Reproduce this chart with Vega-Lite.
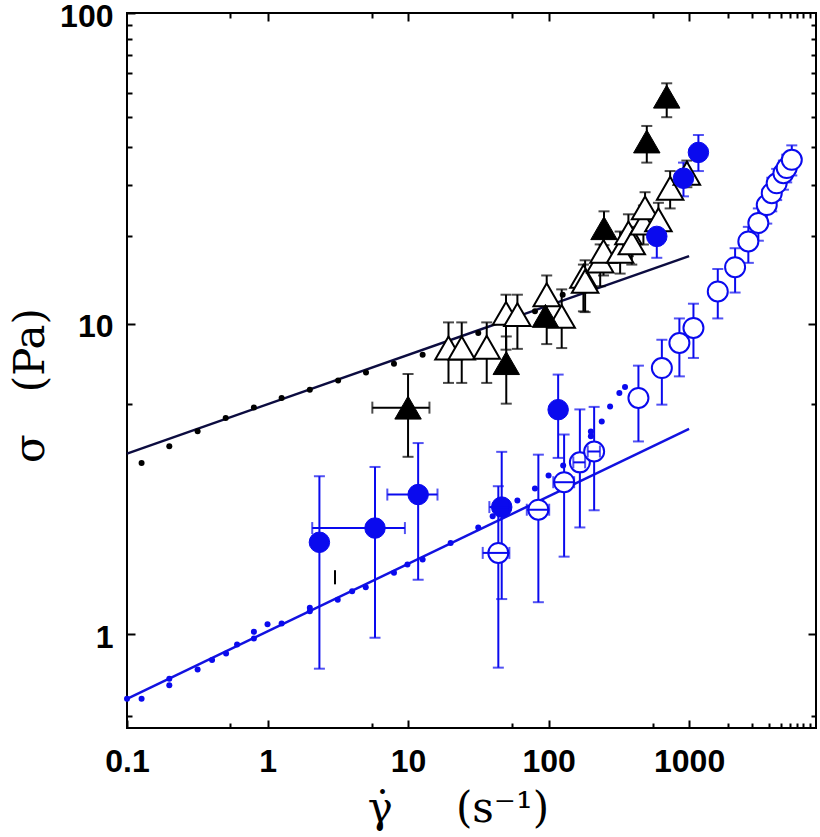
{
  "$schema": "https://vega.github.io/schema/vega-lite/v6.json",
  "width": 689,
  "height": 715,
  "autosize": {"type": "none"},
  "padding": {"left": 127, "top": 13, "right": 4, "bottom": 109},
  "background": "white",
  "config": {"view": {"stroke": "black", "strokeWidth": 2}},
  "datasets": {
    "pts": [
      {"kind": "fit", "sample": "S1", "x": 0.1, "y": 3.82},
      {"kind": "fit", "sample": "S1", "x": 1000, "y": 16.5},
      {"kind": "fit", "sample": "S2", "x": 0.1, "y": 0.62},
      {"kind": "fit", "sample": "S2", "x": 1000, "y": 4.59},

      {"kind": "fine", "sample": "S1", "x": 0.127, "y": 3.56},
      {"kind": "fine", "sample": "S1", "x": 0.2, "y": 4.03},
      {"kind": "fine", "sample": "S1", "x": 0.318, "y": 4.51},
      {"kind": "fine", "sample": "S1", "x": 0.504, "y": 4.97},
      {"kind": "fine", "sample": "S1", "x": 0.8, "y": 5.38},
      {"kind": "fine", "sample": "S1", "x": 1.26, "y": 5.77},
      {"kind": "fine", "sample": "S1", "x": 2.0, "y": 6.13},
      {"kind": "fine", "sample": "S1", "x": 3.18, "y": 6.56},
      {"kind": "fine", "sample": "S1", "x": 5.02, "y": 6.97},
      {"kind": "fine", "sample": "S1", "x": 7.94, "y": 7.44},
      {"kind": "fine", "sample": "S1", "x": 12.7, "y": 7.95},
      {"kind": "fine", "sample": "S1", "x": 19.9, "y": 8.62},
      {"kind": "fine", "sample": "S1", "x": 31.6, "y": 9.33},
      {"kind": "fine", "sample": "S1", "x": 50.4, "y": 10.2},
      {"kind": "fine", "sample": "S1", "x": 80, "y": 10.96},
      {"kind": "fine", "sample": "S1", "x": 126, "y": 12.4},
      {"kind": "fine", "sample": "S1", "x": 200, "y": 12.9},
      {"kind": "fine", "sample": "S1", "x": 314, "y": 16.2},
      {"kind": "fine", "sample": "S1", "x": 350, "y": 17.5},

      {"kind": "fine", "sample": "S2", "x": 0.1, "y": 0.621},
      {"kind": "fine", "sample": "S2", "x": 0.127, "y": 0.621},
      {"kind": "fine", "sample": "S2", "x": 0.2, "y": 0.72},
      {"kind": "fine", "sample": "S2", "x": 0.2, "y": 0.686},
      {"kind": "fine", "sample": "S2", "x": 0.318, "y": 0.772},
      {"kind": "fine", "sample": "S2", "x": 0.403, "y": 0.827},
      {"kind": "fine", "sample": "S2", "x": 0.507, "y": 0.869},
      {"kind": "fine", "sample": "S2", "x": 0.607, "y": 0.929},
      {"kind": "fine", "sample": "S2", "x": 0.8, "y": 1.02},
      {"kind": "fine", "sample": "S2", "x": 0.8, "y": 0.971},
      {"kind": "fine", "sample": "S2", "x": 1.0, "y": 1.079},
      {"kind": "fine", "sample": "S2", "x": 1.26, "y": 1.085},
      {"kind": "fine", "sample": "S2", "x": 2.0, "y": 1.219},
      {"kind": "fine", "sample": "S2", "x": 2.0, "y": 1.188},
      {"kind": "fine", "sample": "S2", "x": 3.16, "y": 1.293},
      {"kind": "fine", "sample": "S2", "x": 4.0, "y": 1.378},
      {"kind": "fine", "sample": "S2", "x": 5.0, "y": 1.419},
      {"kind": "fine", "sample": "S2", "x": 7.94, "y": 1.579},
      {"kind": "fine", "sample": "S2", "x": 9.9, "y": 1.68},
      {"kind": "fine", "sample": "S2", "x": 12.7, "y": 1.742},
      {"kind": "fine", "sample": "S2", "x": 20.1, "y": 1.97},
      {"kind": "fine", "sample": "S2", "x": 31.6, "y": 2.21},
      {"kind": "fine", "sample": "S2", "x": 40, "y": 2.4},
      {"kind": "fine", "sample": "S2", "x": 60, "y": 2.7},
      {"kind": "fine", "sample": "S2", "x": 80, "y": 2.95},
      {"kind": "fine", "sample": "S2", "x": 100, "y": 3.25},
      {"kind": "fine", "sample": "S2", "x": 127, "y": 3.5},
      {"kind": "fine", "sample": "S2", "x": 200, "y": 4.34},
      {"kind": "fine", "sample": "S2", "x": 200, "y": 4.5},
      {"kind": "fine", "sample": "S2", "x": 239, "y": 4.85},
      {"kind": "fine", "sample": "S2", "x": 274, "y": 5.42},
      {"kind": "fine", "sample": "S2", "x": 319, "y": 5.99},
      {"kind": "fine", "sample": "S2", "x": 350, "y": 6.26},

      {"kind": "triFilled", "sample": "S1", "x": 10, "y": 5.37, "ylo": 3.73, "yhi": 6.89, "xlo": 5.57, "xhi": 14.2},
      {"kind": "triFilled", "sample": "S1", "x": 50, "y": 7.47, "ylo": 5.53, "yhi": 9.1},
      {"kind": "triFilled", "sample": "S1", "x": 95, "y": 10.6},
      {"kind": "triFilled", "sample": "S1", "x": 248, "y": 20.3, "ylo": 17.9, "yhi": 23},
      {"kind": "triFilled", "sample": "S1", "x": 500, "y": 38.6, "ylo": 33.0, "yhi": 43.3},
      {"kind": "triFilled", "sample": "S1", "x": 693, "y": 53.8, "ylo": 46.2, "yhi": 59.4},

      {"kind": "triOpen", "sample": "S1", "x": 19.4, "y": 8.35, "ylo": 6.45, "yhi": 10.1},
      {"kind": "triOpen", "sample": "S1", "x": 24.1, "y": 8.35, "ylo": 6.45, "yhi": 10.1},
      {"kind": "triOpen", "sample": "S1", "x": 36.3, "y": 8.4, "ylo": 6.45, "yhi": 10.1},
      {"kind": "triOpen", "sample": "S1", "x": 49.8, "y": 10.8, "ylo": 8.25, "yhi": 12.4},
      {"kind": "triOpen", "sample": "S1", "x": 60, "y": 10.7, "ylo": 8.3, "yhi": 12.4},
      {"kind": "triOpen", "sample": "S1", "x": 97, "y": 12.4, "ylo": 8.6, "yhi": 14.3},
      {"kind": "triOpen", "sample": "S1", "x": 124, "y": 10.56, "ylo": 8.35, "yhi": 12.9},
      {"kind": "triOpen", "sample": "S1", "x": 177, "y": 14.2, "ylo": 10.96, "yhi": 15.5},
      {"kind": "triOpen", "sample": "S1", "x": 182, "y": 13.7, "ylo": 10.9, "yhi": 16.0},
      {"kind": "triOpen", "sample": "S1", "x": 233, "y": 15.9, "ylo": 13.2, "yhi": 18.0},
      {"kind": "triOpen", "sample": "S1", "x": 246, "y": 17.1, "ylo": 14.3, "yhi": 19.5},
      {"kind": "triOpen", "sample": "S1", "x": 323, "y": 17.1, "ylo": 14.5, "yhi": 19.8},
      {"kind": "triOpen", "sample": "S1", "x": 370, "y": 19.6, "ylo": 16.5, "yhi": 22.5},
      {"kind": "triOpen", "sample": "S1", "x": 391, "y": 18.2, "ylo": 15.5, "yhi": 20.5},
      {"kind": "triOpen", "sample": "S1", "x": 473, "y": 21.1, "ylo": 18.0, "yhi": 24.0},
      {"kind": "triOpen", "sample": "S1", "x": 486, "y": 23.6, "ylo": 20.5, "yhi": 26.5},
      {"kind": "triOpen", "sample": "S1", "x": 605, "y": 21.6, "ylo": 18.5, "yhi": 24.5},
      {"kind": "triOpen", "sample": "S1", "x": 733, "y": 27.3, "ylo": 23.5, "yhi": 31},
      {"kind": "triOpen", "sample": "S1", "x": 964, "y": 30.5, "ylo": 27.5, "yhi": 33.5},

      {"kind": "circFilled", "sample": "S2", "x": 2.34, "y": 1.98, "ylo": 0.776, "yhi": 3.23},
      {"kind": "circFilled", "sample": "S2", "x": 5.82, "y": 2.2, "ylo": 0.976, "yhi": 3.46, "xlo": 2.08, "xhi": 9.5},
      {"kind": "circFilled", "sample": "S2", "x": 11.8, "y": 2.82, "ylo": 1.5, "yhi": 4.13, "xlo": 7.12, "xhi": 16.2},
      {"kind": "circFilled", "sample": "S2", "x": 46.4, "y": 2.57, "ylo": 1.3, "yhi": 3.87, "xlo": 37.9, "xhi": 52.6},
      {"kind": "circFilled", "sample": "S2", "x": 117, "y": 5.29, "ylo": 3.7, "yhi": 6.86},
      {"kind": "circFilled", "sample": "S2", "x": 589, "y": 19.1, "ylo": 16.3, "yhi": 21.3},
      {"kind": "circFilled", "sample": "S2", "x": 912, "y": 29.4, "ylo": 25.7, "yhi": 33},
      {"kind": "circFilled", "sample": "S2", "x": 1165, "y": 35.6, "ylo": 31, "yhi": 40.5},

      {"kind": "circOpen", "sample": "S2", "x": 43.9, "y": 1.83, "ylo": 0.782, "yhi": 3.0, "xlo": 34, "xhi": 52.6},
      {"kind": "circOpen", "sample": "S2", "x": 84.6, "y": 2.52, "ylo": 1.27, "yhi": 3.79, "xlo": 70, "xhi": 101},
      {"kind": "circOpen", "sample": "S2", "x": 129, "y": 3.09, "ylo": 1.78, "yhi": 4.4, "xlo": 108, "xhi": 152},
      {"kind": "circOpen", "sample": "S2", "x": 167, "y": 3.58, "ylo": 2.21, "yhi": 5.3, "xlo": 150, "xhi": 182},
      {"kind": "circOpen", "sample": "S2", "x": 211, "y": 3.88, "ylo": 2.51, "yhi": 5.4, "xlo": 190, "xhi": 232},
      {"kind": "circOpen", "sample": "S2", "x": 436, "y": 5.77, "ylo": 4.18, "yhi": 7.33},
      {"kind": "circOpen", "sample": "S2", "x": 640, "y": 7.2, "ylo": 5.49, "yhi": 8.88},
      {"kind": "circOpen", "sample": "S2", "x": 853, "y": 8.67, "ylo": 6.77, "yhi": 10.4},
      {"kind": "circOpen", "sample": "S2", "x": 1074, "y": 9.69, "ylo": 7.76, "yhi": 11.6},
      {"kind": "circOpen", "sample": "S2", "x": 1600, "y": 12.7, "ylo": 10.4, "yhi": 15},
      {"kind": "circOpen", "sample": "S2", "x": 2125, "y": 15.2, "ylo": 12.6, "yhi": 17.5},
      {"kind": "circOpen", "sample": "S2", "x": 2640, "y": 18.4, "ylo": 15.7, "yhi": 20.5},
      {"kind": "circOpen", "sample": "S2", "x": 3110, "y": 21.1, "ylo": 18.5, "yhi": 23.5},
      {"kind": "circOpen", "sample": "S2", "x": 3570, "y": 24.1, "ylo": 21, "yhi": 27},
      {"kind": "circOpen", "sample": "S2", "x": 3875, "y": 26.3, "ylo": 23, "yhi": 29.5},
      {"kind": "circOpen", "sample": "S2", "x": 4200, "y": 28.3, "ylo": 25, "yhi": 31.5},
      {"kind": "circOpen", "sample": "S2", "x": 4690, "y": 30.5, "ylo": 27, "yhi": 33.5},
      {"kind": "circOpen", "sample": "S2", "x": 4950, "y": 31.7, "ylo": 28.5, "yhi": 35},
      {"kind": "circOpen", "sample": "S2", "x": 5380, "y": 33.7, "ylo": 30, "yhi": 37.5},

      {"kind": "stray", "sample": "S1", "x": 3.02, "y": 1.53, "ylo": 1.45, "yhi": 1.61}
    ]
  },
  "data": {"name": "pts"},
  "resolve": {"axis": {"x": "independent", "y": "independent"}},
  "layer": [
    {
      "transform": [{"filter": "datum.kind === 'fit'"}],
      "mark": {"type": "point", "opacity": 0},
      "encoding": {
        "x": {"field": "x", "type": "quantitative", "scale": {"type": "log", "domain": [0.1, 8000], "nice": false},
          "axis": {"orient": "bottom", "offset": -8, "tickSize": 8, "tickWidth": 2, "tickColor": "black", "domain": false, "grid": false,
            "values": [0.1, 1, 10, 100, 1000], "format": "~g",
            "labelFont": "Liberation Sans", "labelFontWeight": "bold", "labelFontSize": 32, "labelColor": "black", "labelPadding": 18, "labelFlush": false,
            "title": "γ̇\u2003\u2002(s⁻¹)", "titleFont": "DejaVu Serif", "titleFontWeight": "normal", "titleFontSize": 42, "titleColor": "black",
            "titleX": 331, "titleY": 88, "titleBaseline": "middle", "titleAlign": "center"}},
        "y": {"field": "y", "type": "quantitative", "scale": {"type": "log", "domain": [0.5, 100], "nice": false},
          "axis": {"orient": "left", "offset": -8, "tickSize": 8, "tickWidth": 2, "tickColor": "black", "domain": false, "grid": false,
            "values": [1, 10, 100], "format": "~g",
            "labelFont": "Liberation Sans", "labelFontWeight": "bold", "labelFontSize": 32, "labelColor": "black", "labelPadding": 14, "labelOffset": 3, "labelFlush": false,
            "title": "σ\u2003(Pa)", "titleFont": "DejaVu Serif", "titleFontWeight": "normal", "titleFontSize": 42, "titleColor": "black",
            "titleX": -105, "titleY": 372, "titleBaseline": "middle", "titleAlign": "center"}}
      }
    },
    {
      "transform": [{"filter": "datum.kind === 'fit'"}],
      "mark": {"type": "point", "opacity": 0},
      "encoding": {
        "x": {"field": "x", "type": "quantitative", "scale": {"type": "log", "domain": [0.1, 8000], "nice": false},
          "axis": {"orient": "bottom", "offset": -5, "tickSize": 5, "tickWidth": 2, "tickColor": "black", "domain": false, "grid": false, "labels": false, "title": null,
            "values": [0.54, 5.57, 54.7, 552, 1900, 2800, 3700, 4500, 5200, 5850, 6500, 7300]}},
        "y": {"field": "y", "type": "quantitative", "scale": {"type": "log", "domain": [0.5, 100], "nice": false},
          "axis": {"orient": "left", "offset": -5, "tickSize": 5, "tickWidth": 2, "tickColor": "black", "domain": false, "grid": false, "labels": false, "title": null,
            "values": [0.547, 5.5, 19.1, 28, 37.1, 46.2, 55.2, 64.3, 73.3, 82.3, 91.5]}}
      }
    },
    {
      "transform": [{"filter": "datum.kind === 'fit'"}],
      "mark": {"type": "point", "opacity": 0},
      "encoding": {
        "x": {"field": "x", "type": "quantitative", "scale": {"type": "log", "domain": [0.1, 8000], "nice": false},
          "axis": {"orient": "top", "offset": -8, "tickSize": 8, "tickWidth": 2, "tickColor": "black", "domain": false, "grid": false, "labels": false, "title": null,
            "values": [1, 10, 100, 1000]}},
        "y": {"field": "y", "type": "quantitative", "scale": {"type": "log", "domain": [0.5, 100], "nice": false},
          "axis": {"orient": "right", "offset": -8, "tickSize": 8, "tickWidth": 2, "tickColor": "black", "domain": false, "grid": false, "labels": false, "title": null,
            "values": [1, 10]}}
      }
    },
    {
      "transform": [{"filter": "datum.kind === 'fit'"}],
      "mark": {"type": "point", "opacity": 0},
      "encoding": {
        "x": {"field": "x", "type": "quantitative", "scale": {"type": "log", "domain": [0.1, 8000], "nice": false},
          "axis": {"orient": "top", "offset": -5, "tickSize": 5, "tickWidth": 2, "tickColor": "black", "domain": false, "grid": false, "labels": false, "title": null,
            "values": [0.54, 5.57, 54.7, 552, 1900, 2800, 3700, 4500, 5200, 5850, 6500, 7300]}},
        "y": {"field": "y", "type": "quantitative", "scale": {"type": "log", "domain": [0.5, 100], "nice": false},
          "axis": {"orient": "right", "offset": -5, "tickSize": 5, "tickWidth": 2, "tickColor": "black", "domain": false, "grid": false, "labels": false, "title": null,
            "values": [0.547, 5.5, 19.1, 28, 37.1, 46.2, 55.2, 64.3, 73.3, 82.3, 91.5]}}
      }
    },
    {
      "transform": [{"filter": "datum.kind === 'fit' && datum.sample === 'S2'"}],
      "mark": {"type": "line", "color": "#1212e0", "strokeWidth": 2.5},
      "encoding": {
        "x": {"field": "x", "type": "quantitative", "scale": {"type": "log", "domain": [0.1, 8000], "nice": false}, "axis": null},
        "y": {"field": "y", "type": "quantitative", "scale": {"type": "log", "domain": [0.5, 100], "nice": false}, "axis": null}
      }
    },
    {
      "transform": [{"filter": "datum.kind === 'fit' && datum.sample === 'S1'"}],
      "mark": {"type": "line", "color": "#0c0c40", "strokeWidth": 2.5},
      "encoding": {
        "x": {"field": "x", "type": "quantitative", "scale": {"type": "log", "domain": [0.1, 8000], "nice": false}, "axis": null},
        "y": {"field": "y", "type": "quantitative", "scale": {"type": "log", "domain": [0.5, 100], "nice": false}, "axis": null}
      }
    },
    {
      "transform": [{"filter": "datum.kind === 'fine'"}],
      "mark": {"type": "circle", "size": 36, "opacity": 1},
      "encoding": {
        "x": {"field": "x", "type": "quantitative", "scale": {"type": "log", "domain": [0.1, 8000], "nice": false}, "axis": null},
        "y": {"field": "y", "type": "quantitative", "scale": {"type": "log", "domain": [0.5, 100], "nice": false}, "axis": null},
        "color": {"field": "sample", "type": "nominal", "scale": {"domain": ["S1", "S2"], "range": ["#000000", "#0a0aee"]}, "legend": null}
      }
    },
    {
      "transform": [{"filter": "isValid(datum.ylo) && datum.kind !== 'stray'"}],
      "mark": {"type": "rule", "strokeWidth": 2},
      "encoding": {
        "x": {"field": "x", "type": "quantitative", "scale": {"type": "log", "domain": [0.1, 8000], "nice": false}, "axis": null},
        "y": {"field": "ylo", "type": "quantitative", "scale": {"type": "log", "domain": [0.5, 100], "nice": false}, "axis": null},
        "y2": {"field": "yhi"},
        "color": {"field": "sample", "type": "nominal", "scale": {"domain": ["S1", "S2"], "range": ["#000000", "#0a0aee"]}, "legend": null}
      }
    },
    {
      "transform": [{"filter": "isValid(datum.ylo) && datum.kind !== 'stray'"}, {"fold": ["ylo", "yhi"], "as": ["end", "yv"]}],
      "mark": {"type": "tick", "orient": "horizontal", "size": 11, "thickness": 2},
      "encoding": {
        "x": {"field": "x", "type": "quantitative", "scale": {"type": "log", "domain": [0.1, 8000], "nice": false}, "axis": null},
        "y": {"field": "yv", "type": "quantitative", "scale": {"type": "log", "domain": [0.5, 100], "nice": false}, "axis": null},
        "color": {"field": "sample", "type": "nominal", "scale": {"domain": ["S1", "S2"], "range": ["#000000", "#0a0aee"]}, "legend": null}
      }
    },
    {
      "transform": [{"filter": "datum.kind === 'triOpen'"}],
      "mark": {"type": "point", "shape": "triangle-up", "size": 700, "filled": true, "fill": "white", "fillOpacity": 1, "stroke": "black", "strokeWidth": 2, "opacity": 1},
      "encoding": {
        "x": {"field": "x", "type": "quantitative", "scale": {"type": "log", "domain": [0.1, 8000], "nice": false}, "axis": null},
        "y": {"field": "y", "type": "quantitative", "scale": {"type": "log", "domain": [0.5, 100], "nice": false}, "axis": null}
      }
    },
    {
      "transform": [{"filter": "datum.kind === 'triFilled'"}],
      "mark": {"type": "point", "shape": "triangle-up", "size": 700, "filled": true, "fill": "black", "fillOpacity": 1, "stroke": "black", "strokeWidth": 1, "opacity": 1},
      "encoding": {
        "x": {"field": "x", "type": "quantitative", "scale": {"type": "log", "domain": [0.1, 8000], "nice": false}, "axis": null},
        "y": {"field": "y", "type": "quantitative", "scale": {"type": "log", "domain": [0.5, 100], "nice": false}, "axis": null}
      }
    },
    {
      "transform": [{"filter": "datum.kind === 'circOpen'"}],
      "mark": {"type": "point", "shape": "circle", "size": 400, "filled": true, "fill": "white", "fillOpacity": 1, "stroke": "#0a0aee", "strokeWidth": 2, "opacity": 1},
      "encoding": {
        "x": {"field": "x", "type": "quantitative", "scale": {"type": "log", "domain": [0.1, 8000], "nice": false}, "axis": null},
        "y": {"field": "y", "type": "quantitative", "scale": {"type": "log", "domain": [0.5, 100], "nice": false}, "axis": null}
      }
    },
    {
      "transform": [{"filter": "datum.kind === 'circFilled'"}],
      "mark": {"type": "point", "shape": "circle", "size": 420, "filled": true, "fill": "#0a0aee", "fillOpacity": 1, "stroke": "#0a0aee", "strokeWidth": 1, "opacity": 1},
      "encoding": {
        "x": {"field": "x", "type": "quantitative", "scale": {"type": "log", "domain": [0.1, 8000], "nice": false}, "axis": null},
        "y": {"field": "y", "type": "quantitative", "scale": {"type": "log", "domain": [0.5, 100], "nice": false}, "axis": null}
      }
    },
    {
      "transform": [{"filter": "isValid(datum.xlo)"}],
      "mark": {"type": "rule", "strokeWidth": 2},
      "encoding": {
        "x": {"field": "xlo", "type": "quantitative", "scale": {"type": "log", "domain": [0.1, 8000], "nice": false}, "axis": null},
        "x2": {"field": "xhi"},
        "y": {"field": "y", "type": "quantitative", "scale": {"type": "log", "domain": [0.5, 100], "nice": false}, "axis": null},
        "color": {"field": "sample", "type": "nominal", "scale": {"domain": ["S1", "S2"], "range": ["#000000", "#0a0aee"]}, "legend": null}
      }
    },
    {
      "transform": [{"filter": "isValid(datum.xlo)"}, {"fold": ["xlo", "xhi"], "as": ["end", "xv"]}],
      "mark": {"type": "tick", "orient": "vertical", "size": 12, "thickness": 2},
      "encoding": {
        "x": {"field": "xv", "type": "quantitative", "scale": {"type": "log", "domain": [0.1, 8000], "nice": false}, "axis": null},
        "y": {"field": "y", "type": "quantitative", "scale": {"type": "log", "domain": [0.5, 100], "nice": false}, "axis": null},
        "color": {"field": "sample", "type": "nominal", "scale": {"domain": ["S1", "S2"], "range": ["#000000", "#0a0aee"]}, "legend": null}
      }
    },
    {
      "transform": [{"filter": "datum.kind === 'stray'"}],
      "mark": {"type": "rule", "strokeWidth": 2, "color": "black"},
      "encoding": {
        "x": {"field": "x", "type": "quantitative", "scale": {"type": "log", "domain": [0.1, 8000], "nice": false}, "axis": null},
        "y": {"field": "ylo", "type": "quantitative", "scale": {"type": "log", "domain": [0.5, 100], "nice": false}, "axis": null},
        "y2": {"field": "yhi"}
      }
    }
  ]
}
